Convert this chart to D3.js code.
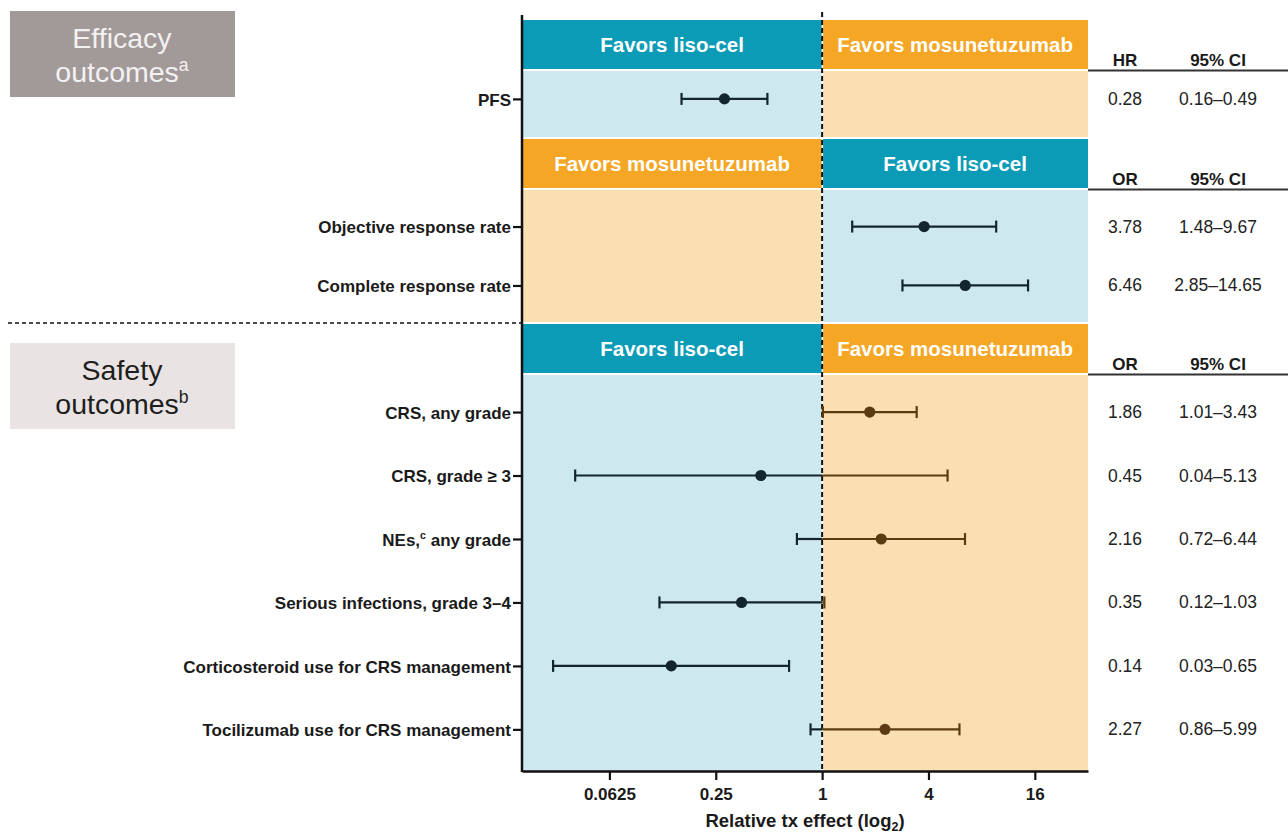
<!DOCTYPE html>
<meta charset="utf-8">
<style>
  body { margin: 0; background: #fff; }
  text { font-family: "Liberation Sans", Arial, sans-serif; }
</style>
<script src="https://d3js.org/d3.v7.min.js"></script>

<div id="forest"></div>

<script>
// outcomes, top to bottom ("^x^" marks a superscript)
var outcomes = ["PFS", "Objective response rate", "Complete response rate",
  "CRS, any grade", "CRS, grade \u2265 3", "NEs,^c^ any grade",
  "Serious infections, grade 3\u20134", "Corticosteroid use for CRS management",
  "Tocilizumab use for CRS management"];
var sectionOf = [0, 1, 1, 2, 2, 2, 2, 2, 2];
var estimate = [0.28, 3.78, 6.46, 1.86, 0.45, 2.16, 0.35, 0.14, 2.27];
var ciLow = [0.16, 1.48, 2.85, 1.01, 0.04, 0.72, 0.12, 0.03, 0.86];
var ciHigh = [0.49, 9.67, 14.65, 3.43, 5.13, 6.44, 1.03, 0.65, 5.99];
var estText = ["0.28", "3.78", "6.46", "1.86", "0.45", "2.16", "0.35", "0.14", "2.27"];
var ciText = ["0.16\u20130.49", "1.48\u20139.67", "2.85\u201314.65", "1.01\u20133.43",
  "0.04\u20135.13", "0.72\u20136.44", "0.12\u20131.03", "0.03\u20130.65", "0.86\u20135.99"];

// section headers
var leftHeader = ["Favors liso-cel", "Favors mosunetuzumab", "Favors liso-cel"];
var rightHeader = ["Favors mosunetuzumab", "Favors liso-cel", "Favors mosunetuzumab"];
var statName = ["HR", "OR", "OR"];
var ciName = ["95% CI", "95% CI", "95% CI"];
var groupLines = [["Efficacy", "outcomes^a^"], ["Safety", "outcomes^b^"]];

var tickVals = [0.0625, 0.25, 1, 4, 16];

// colours
var col = {
  liso: "#0b9bb6", lisoBand: "#cde8ef", lisoMark: "#13262e",
  mosun: "#f5a625", mosunBand: "#fadfb0", mosunMark: "#5b3c12"
};

var W = 1288, H = 833;
var svg = d3.select("#forest").append("svg")
  .attr("width", W).attr("height", H);

var x = d3.scaleLog().base(2).domain([0.02, 32]).range([522, 1088]);
var x1 = x(1);

// vertical layout of the three sections
var headH = 49, gap = 2, rowH = 66, top0 = 20;
var aligns = [0.1, 0.5, 0.35];
var cur = top0;
var sections = leftHeader.map(function(h, s) {
  var rows = outcomes.filter(function(d, i) { return sectionOf[i] === s; });
  var sec = { s: s, rows: rows, headTop: cur, headBot: cur + headH };
  sec.bandTop = sec.headBot + gap;
  sec.bandBot = sec.bandTop + rows.length * rowH;
  sec.y = d3.scaleBand().domain(rows).range([sec.bandTop, sec.bandBot])
    .paddingOuter(0.12).align(aligns[s]);
  cur = sec.bandBot + gap;
  return sec;
});
var plotBottom = sections[2].bandBot;

// y centre of every outcome
var yPos = outcomes.map(function(d, i) {
  var sec = sections[sectionOf[i]];
  return sec.y(d) + sec.y.bandwidth() / 2;
});

function isLiso(label) { return label.indexOf("liso") >= 0; }
function sideOf(s, v) { return isLiso(v < 1 ? leftHeader[s] : rightHeader[s]) ? "liso" : "mosun"; }

// write text with ^sup^ parts
function richText(sel, str, size) {
  var parts = str.split("^");
  parts.forEach(function(p, k) {
    if (!p) return;
    var t = sel.append("tspan").text(p);
    if (k % 2 === 1) {
      t.attr("font-size", size * 0.62).attr("dy", -size * 0.38);
    } else if (k > 0) {
      t.attr("dy", size * 0.38);
    }
  });
}

// ---- header and band rectangles
var bg = svg.append("g");
sections.forEach(function(sec) {
  var s = sec.s;
  var L = isLiso(leftHeader[s]) ? "liso" : "mosun";
  var R = isLiso(rightHeader[s]) ? "liso" : "mosun";
  bg.append("rect").attr("x", x.range()[0]).attr("y", sec.headTop)
    .attr("width", x1 - 0.5 - x.range()[0]).attr("height", headH).attr("fill", col[L]);
  bg.append("rect").attr("x", x1 + 1).attr("y", sec.headTop)
    .attr("width", x.range()[1] - x1 - 1).attr("height", headH).attr("fill", col[R]);
  bg.append("rect").attr("x", x.range()[0]).attr("y", sec.bandTop)
    .attr("width", x1 - 0.5 - x.range()[0]).attr("height", sec.bandBot - sec.bandTop)
    .attr("fill", col[L + "Band"]);
  bg.append("rect").attr("x", x1 + 1).attr("y", sec.bandTop)
    .attr("width", x.range()[1] - x1 - 1).attr("height", sec.bandBot - sec.bandTop)
    .attr("fill", col[R + "Band"]);

  bg.append("text").attr("x", (x.range()[0] + x1) / 2).attr("y", sec.headTop + headH / 2 + 7)
    .attr("text-anchor", "middle").attr("font-weight", "bold").attr("font-size", 20.5)
    .attr("fill", "#fff").text(leftHeader[s]);
  bg.append("text").attr("x", (x1 + x.range()[1]) / 2).attr("y", sec.headTop + headH / 2 + 7)
    .attr("text-anchor", "middle").attr("font-weight", "bold").attr("font-size", 20.5)
    .attr("fill", "#fff").text(rightHeader[s]);

  // table header
  var lineY = sec.headBot + 1.5;
  bg.append("line").attr("x1", x.range()[1]).attr("x2", W)
    .attr("y1", lineY).attr("y2", lineY).attr("stroke", "#333").attr("stroke-width", 2);
  bg.append("text").attr("x", 1125).attr("y", lineY - 5).attr("text-anchor", "middle")
    .attr("font-weight", "bold").attr("font-size", 17).attr("fill", "#1a1a1a").text(statName[s]);
  bg.append("text").attr("x", 1218).attr("y", lineY - 5).attr("text-anchor", "middle")
    .attr("font-weight", "bold").attr("font-size", 17).attr("fill", "#1a1a1a").text(ciName[s]);
});

// ---- group boxes on the left
var boxes = [
  { y: sections[0].headTop - 9, fill: "#a29999", ink: "#f3f1f1" },
  { y: sections[2].headTop + 19, fill: "#e9e3e3", ink: "#1e1e1e" }
];
boxes.forEach(function(b, k) {
  svg.append("rect").attr("x", 10).attr("y", b.y).attr("width", 225).attr("height", 86)
    .attr("fill", b.fill);
  groupLines[k].forEach(function(line, j) {
    var t = svg.append("text").attr("x", 122).attr("y", b.y + 37 + j * 34)
      .attr("text-anchor", "middle").attr("font-size", 28.5).attr("fill", b.ink);
    richText(t, line, 28.5);
  });
});

// dashed separator between efficacy and safety
var sepY = (sections[1].bandBot + sections[2].headTop) / 2;
svg.append("line").attr("x1", 8).attr("x2", x.range()[0]).attr("y1", sepY).attr("y2", sepY)
  .attr("stroke", "#111").attr("stroke-width", 1.6).attr("stroke-dasharray", "4,3");

// dashed line of no effect
svg.append("line").attr("x1", x1).attr("x2", x1).attr("y1", 12).attr("y2", plotBottom)
  .attr("stroke", "#111").attr("stroke-width", 2).attr("stroke-dasharray", "5,3");

// ---- confidence intervals
var marks = svg.append("g");
outcomes.forEach(function(d, i) {
  var s = sectionOf[i], y = yPos[i];
  var segs = [];
  if (ciLow[i] < 1) segs.push([ciLow[i], Math.min(ciHigh[i], 1), sideOf(s, 0.5)]);
  if (ciHigh[i] > 1) segs.push([Math.max(ciLow[i], 1), ciHigh[i], sideOf(s, 2)]);
  segs.forEach(function(g) {
    marks.append("line").attr("x1", x(g[0])).attr("x2", x(g[1]))
      .attr("y1", y).attr("y2", y)
      .attr("stroke", col[g[2] + "Mark"]).attr("stroke-width", 2.2);
  });
  [ciLow[i], ciHigh[i]].forEach(function(v) {
    marks.append("line").attr("x1", x(v)).attr("x2", x(v))
      .attr("y1", y - 6).attr("y2", y + 6)
      .attr("stroke", col[sideOf(s, v) + "Mark"]).attr("stroke-width", 2.2);
  });
  marks.append("circle").attr("cx", x(estimate[i])).attr("cy", y).attr("r", 5.6)
    .attr("fill", col[sideOf(s, estimate[i]) + "Mark"]);

  // table values
  svg.append("text").attr("x", 1125).attr("y", y + 6).attr("text-anchor", "middle")
    .attr("font-size", 17.5).attr("fill", "#222").text(estText[i]);
  svg.append("text").attr("x", 1218).attr("y", y + 6).attr("text-anchor", "middle")
    .attr("font-size", 17.5).attr("fill", "#222").text(ciText[i]);
});

// ---- axes
var yOrd = d3.scaleOrdinal().domain(outcomes).range(yPos);
var yAxis = svg.append("g").attr("transform", "translate(" + x.range()[0] + ",0)")
  .call(d3.axisLeft(yOrd).tickSize(9).tickPadding(3).tickFormat(""));
yAxis.select(".domain").remove();
yAxis.selectAll(".tick line").attr("stroke", "#111").attr("stroke-width", 2.2);
yAxis.selectAll(".tick").each(function(d) {
  var t = d3.select(this).append("text").attr("x", -11).attr("dy", "0.36em")
    .attr("text-anchor", "end").attr("font-weight", "bold").attr("font-size", 17)
    .attr("fill", "#1a1a1a");
  richText(t, d, 17);
});
svg.append("line").attr("x1", x.range()[0]).attr("x2", x.range()[0])
  .attr("y1", 15).attr("y2", plotBottom + 1)
  .attr("stroke", "#111").attr("stroke-width", 2.5);

var xAxis = svg.append("g").attr("transform", "translate(0," + plotBottom + ")")
  .call(d3.axisBottom(x).tickValues(tickVals).tickFormat(function(d) { return String(d); })
    .tickSize(9).tickSizeOuter(0).tickPadding(8));
xAxis.select(".domain").attr("stroke", "#111").attr("stroke-width", 2.5);
xAxis.selectAll(".tick line").attr("stroke", "#111").attr("stroke-width", 2.2);
xAxis.selectAll(".tick text").attr("font-family", "Liberation Sans, Arial, sans-serif")
  .attr("font-weight", "bold").attr("font-size", 17).attr("fill", "#1a1a1a");

var title = svg.append("text").attr("x", (x.range()[0] + x.range()[1]) / 2).attr("y", 827)
  .attr("text-anchor", "middle").attr("font-weight", "bold").attr("font-size", 18.5)
  .attr("fill", "#1a1a1a");
title.append("tspan").text("Relative tx effect (log");
title.append("tspan").attr("font-size", 12.5).attr("dy", 4).text("2");
title.append("tspan").attr("dy", -4).text(")");
</script>
